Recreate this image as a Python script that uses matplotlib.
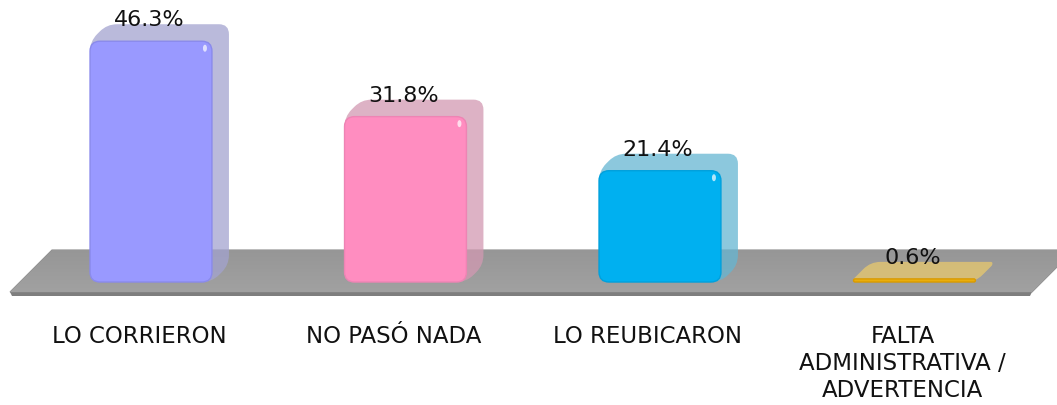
import matplotlib
matplotlib.use('Agg')
import matplotlib.pyplot as plt
import numpy as np
from matplotlib.path import Path
from matplotlib.patches import PathPatch, Polygon, Ellipse
from matplotlib.transforms import IdentityTransform

# ---------------- data ----------------
categories = ["LO CORRIERON", "NO PASÓ NADA", "LO REUBICARON",
              "FALTA\nADMINISTRATIVA /\nADVERTENCIA"]
values = [46.3, 31.8, 21.4, 0.6]
value_labels = ["46.3%", "31.8%", "21.4%", "0.6%"]

# ---------------- styles ----------------
front_colors = ["#9999FF", "#FF8DC0", "#00B0F0", "#EAAE0C"]
side_colors = ["#A3A3CF", "#D299B2", "#66B6D2", "#E9C96D"]
edge_colors = ["#8A8AEC", "#EE84B4", "#00A0DC", "#D99A00"]
side_alpha = 0.75
bar_width = 0.479          # in category units
depth = (17, 17)           # 3D depth offset in pixels
radius = 10                # corner radius in pixels

W, H = 1057, 406
fig = plt.figure(figsize=(W / 100, H / 100), dpi=100)
ax = fig.add_axes([0, 0, 1, 1])
ax.set_xlim(-0.5933, 3.56)
ax.set_ylim(-23.65, 54.42)
ax.axis('off')

ident = IdentityTransform()


def rounded_path(pts, r):
    pts = np.asarray(pts, float)
    n = len(pts)
    verts, codes = [], []
    for k in range(n):
        P = pts[k]
        A = pts[k - 1]
        B = pts[(k + 1) % n]
        da, db = A - P, B - P
        la, lb = np.hypot(*da), np.hypot(*db)
        rr = min(r, la / 2, lb / 2)
        p1 = P + da / la * rr
        p2 = P + db / lb * rr
        verts.append(p1)
        codes.append(Path.MOVETO if k == 0 else Path.LINETO)
        verts += [P, p2]
        codes += [Path.CURVE3, Path.CURVE3]
    verts.append(verts[0])
    codes.append(Path.CLOSEPOLY)
    return Path(verts, codes)


# ---------------- floor ----------------
floor_top = [(52, H - 251), (1074, H - 251), (1032, H - 293), (10, H - 293)]
floor_band = [(10, H - 293), (1032, H - 293), (1030, H - 297), (12, H - 297)]
band = Polygon(floor_band, closed=True, transform=ident,
               facecolor="#7E7E7E", edgecolor="none", zorder=1)
ax.add_patch(band)
floor = Polygon(floor_top, closed=True, transform=ident,
                facecolor="#999999", edgecolor="#8A8A8A", linewidth=0.8, zorder=1)
ax.add_patch(floor)
# subtle vertical gradient on the floor
inv = ax.transData.inverted()
(fx0, fy0) = inv.transform((0, H - 297))
(fx1, fy1) = inv.transform((W, H - 251))
grad = np.linspace(0, 1, 60).reshape(-1, 1)
im = ax.imshow(grad, extent=(fx0, fx1, fy0, fy1), origin='upper',
               cmap=matplotlib.colors.LinearSegmentedColormap.from_list(
                   "fl", ["#969696", "#A2A2A2"]),
               aspect='auto', zorder=1.5, interpolation='bilinear')
im.set_clip_path(floor)
ax.set_xlim(-0.5933, 3.56)
ax.set_ylim(-23.65, 54.42)

# ---------------- bars ----------------
dx, dy = depth
for i, v in enumerate(values):
    (x0, y0) = ax.transData.transform((i - bar_width / 2, 0))
    (x1, y1) = ax.transData.transform((i + bar_width / 2, v))
    sil = [(x0, y0), (x0, y1), (x0 + dx, y1 + dy), (x1 + dx, y1 + dy),
           (x1 + dx, y0 + dy), (x1, y0)]
    ax.add_patch(PathPatch(rounded_path(sil, radius), transform=ident,
                           facecolor=side_colors[i], edgecolor="none",
                           alpha=side_alpha, zorder=3))
    front = [(x0, y0), (x0, y1), (x1, y1), (x1, y0)]
    ax.add_patch(PathPatch(rounded_path(front, radius), transform=ident,
                           facecolor=front_colors[i], edgecolor=edge_colors[i],
                           linewidth=1.0, zorder=4))
    if y1 - y0 > 30:
        ax.add_patch(Ellipse((x1 - 7, y1 - 7), 4, 7, transform=ident,
                             facecolor="white", edgecolor="none", alpha=0.7,
                             zorder=5))

# ---------------- labels ----------------
for i, (v, lbl) in enumerate(zip(values, value_labels)):
    ax.annotate(lbl, xy=(i, v), xytext=(-2, 16), textcoords='offset pixels',
                ha='center', va='baseline', fontsize=16, color="#111111",
                zorder=6)

for i, cat in enumerate(categories):
    ax.annotate(cat, xy=(i, 0), xytext=(-12, -42), textcoords='offset pixels',
                ha='center', va='top', fontsize=16.5, color="#111111",
                linespacing=1.22, zorder=6)

fig.savefig('out.png', dpi=100)
